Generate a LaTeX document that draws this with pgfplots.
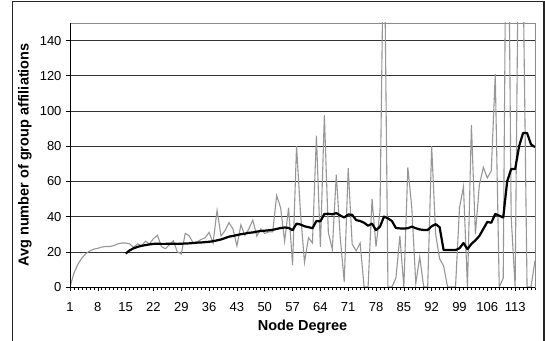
\documentclass[border=0pt]{standalone}
\usepackage{fontspec}
\setmainfont{Liberation Sans}
\usepackage{pgfplots}
\pgfplotsset{compat=1.18}
\begin{document}
\begin{tikzpicture}
\useasboundingbox (0pt,0pt) rectangle (545pt,340pt);
\draw[line width=1.1pt,black!85] (12.5pt,-5pt) -- (12.5pt,338.5pt) -- (544pt,338.5pt) -- (544pt,-5pt);
\begin{axis}[
  at={(70pt,53pt)}, anchor=south west,
  scale only axis, width=465pt, height=264pt,
  xmin=1, xmax=118, ymin=0, ymax=150,
  xtick={1,8,...,113},
  minor xtick={1,...,118},
  ytick={0,20,...,140},
  tick align=outside,
  major tick length=4pt, minor tick length=3pt,
  x tick style={black, line width=0.6pt},
  y tick style={black, line width=0.6pt},
  minor x tick style={black, line width=0.6pt},
  xtick pos=bottom, ytick pos=left,
  ymajorgrids,
  major grid style={black!80, line width=0.6pt},
  axis line style={black!45, line width=0.8pt},
  /pgf/number format/assume math mode=true,
  ticklabel style={font=\fontsize{13}{15}\selectfont},
  xticklabel style={yshift=-8pt},
  yticklabel style={xshift=-1pt},
  xlabel={\bfseries Node Degree},
  ylabel={\bfseries Avg number of group affiliations},
  label style={font=\fontsize{14.5}{17}\selectfont\bfseries},
  xlabel style={at={(axis description cs:0.5,-0.150)}, anchor=center},
  ylabel style={at={(axis description cs:-0.097,0.5)}, anchor=center},
]
\addplot[color={rgb,255:red,150;green,150;blue,150}, line width=1.1pt] coordinates {
(1,0) (2,8) (3,13) (4,16.5) (5,19) (6,20.5) (7,21.5) (8,22) (9,22.7) (10,23)
(11,23) (12,23.5) (13,24.5) (14,25) (15,25) (16,24.5) (17,22.5) (18,24.5) (19,23.5) (20,26)
(21,24.5) (22,27.5) (23,29.4) (24,23) (25,21.7) (26,24) (27,26.3) (28,20) (29,18.8) (30,30.5)
(31,29) (32,25) (33,25.7) (34,27) (35,28) (36,31) (37,25) (38,43.5) (39,29) (40,32)
(41,36.5) (42,33) (43,23.4) (44,35.3) (45,29.4) (46,33) (47,38) (48,29) (49,33) (50,30.4)
(51,31.3) (52,31.3) (53,52) (54,45) (55,26) (56,45) (57,12.5) (58,80) (59,42) (60,14)
(61,28) (62,25) (63,86) (64,22.8) (65,97.7) (66,31) (67,21.4) (68,63.8) (69,28) (70,3)
(71,67.5) (72,24.3) (73,20.5) (74,25) (75,0) (76,0) (77,50) (78,23) (79,43) (80,220)
(81,0) (82,0) (83,5) (84,29) (85,0) (86,68) (87,45) (88,2) (89,17) (90,0)
(91,0) (92,80) (93,30) (94,16) (95,12) (96,0) (97,0) (98,0) (99,45) (100,57)
(101,0) (102,92) (103,30) (104,58) (105,68) (106,62) (107,66) (108,121) (109,0) (110,5)
(111,300) (112,40) (113,0) (114,240) (115,180) (116,0) (117,0) (118,15)
};
\addplot[color=black, line width=2.2pt, line join=round] coordinates {
(15,19) (16,20.8) (17,22) (18,22.8) (19,23.4) (20,23.8)
(21,24.2) (22,24.5) (23,24.6) (24,24.5) (25,24.5) (26,24.6) (27,24.6) (28,24.5) (29,24.6) (30,24.7)
(31,24.8) (32,25) (33,25.2) (34,25.3) (35,25.5) (36,25.7) (37,26) (38,26.5) (39,27) (40,27.8)
(41,28.6) (42,29) (43,29.5) (44,30) (45,30.3) (46,30.8) (47,31) (48,31.5) (49,31.8) (50,32)
(51,32.2) (52,32.5) (53,33) (54,33.5) (55,33.8) (56,33.6) (57,32.3) (58,36) (59,35.5) (60,34.5)
(61,34) (62,33.4) (63,37.5) (64,37.3) (65,41.5) (66,41.6) (67,41.3) (68,42) (69,40.6) (70,39.5)
(71,41.2) (72,41) (73,38) (74,37.5) (75,36.5) (76,34.8) (77,36) (78,32.3) (79,34.3) (80,40)
(81,39) (82,37.5) (83,33.5) (84,33.3) (85,33.2) (86,33.4) (87,34.3) (88,33.4) (89,32.7) (90,32.4)
(91,32.4) (92,34.5) (93,35.7) (94,34) (95,21) (96,21) (97,21) (98,21) (99,22) (100,25)
(101,21.5) (102,24.5) (103,26.5) (104,29) (105,33) (106,37) (107,36.5) (108,41.5) (109,40.5) (110,39.5)
(111,60) (112,67) (113,67) (114,80) (115,87.5) (116,87.5) (117,81) (118,79.5)
};
\draw[black, line width=0.8pt] (rel axis cs:0,1) -- (rel axis cs:0,0) -- (rel axis cs:1,0);
\end{axis}
\end{tikzpicture}
\end{document}
